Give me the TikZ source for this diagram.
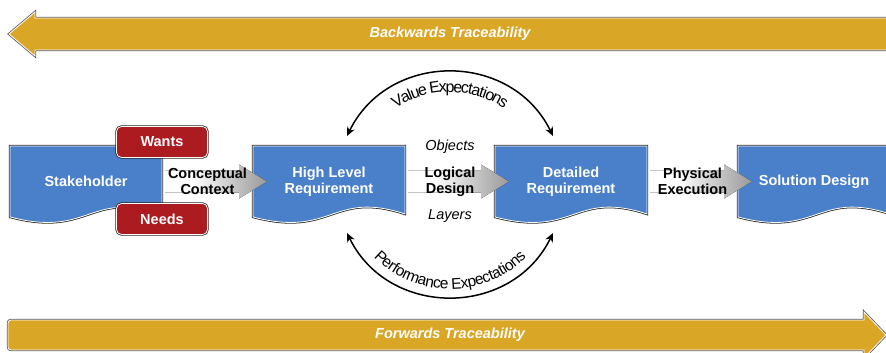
\documentclass[tikz,border=0pt]{standalone}
\usepackage{fontspec}
\setmainfont{Liberation Sans}
\usepackage{tikz}
\usetikzlibrary{positioning,arrows.meta,decorations.text}
\pgfdeclarelayer{bg}
\pgfsetlayers{bg,main}

\definecolor{traceGold}{RGB}{218,166,38}
\definecolor{docBlue}{RGB}{74,127,201}
\definecolor{tagRed}{RGB}{172,27,32}
\definecolor{rimGray}{RGB}{85,85,85}
\pgfdeclarehorizontalshading{flowfade}{100bp}{color(0bp)=(white); color(38bp)=(white); color(75bp)=(black!40); color(100bp)=(black!40)}

\tikzset{
  rimmed/.style={preaction={draw=#1,line width=2.4pt},draw=white,line width=0.8pt},
  rimmed/.default=black!85,
  docnode/.style={minimum width=152pt,minimum height=71pt,inner sep=0pt,outer sep=0pt,
    text=white,align=center,font=\fontsize{14.5}{16}\selectfont\bfseries},
  docshape/.style={rimmed,fill=docBlue},
  tagbox/.style={rimmed,fill=tagRed,rounded corners=5pt,minimum width=91pt,minimum height=31pt,
    inner sep=0pt,text=white,font=\fontsize{14.5}{16}\selectfont\bfseries},
  steplabel/.style={align=center,inner sep=1pt,font=\fontsize{14.5}{16}\selectfont\bfseries},
  layerlabel/.style={inner sep=1pt,font=\fontsize{14.5}{16}\selectfont\itshape},
  flowshade/.style={shading=flowfade},
  tracebar/.style={rimmed=rimGray,fill=traceGold},
  tracetext/.style={text=white,font=\fontsize{14.5}{16}\selectfont\bfseries\itshape},
  expect/.style={line width=1.5pt,{Stealth[length=9pt,width=8pt]}-{Stealth[length=9pt,width=8pt]}},
}

\begin{document}
\begin{tikzpicture}[x=1pt,y=-1pt]
\useasboundingbox (0,0) rectangle (886,353);
\clip (0,0) rectangle (886,353);

% traceability bars
\draw[tracebar] (895,18) -- (35,18) -- (35,12) -- (9,34) -- (35,56) -- (35,50) -- (895,50) -- cycle;
\node[tracetext] (back) at (450,34) {Backwards Traceability};
\draw[tracebar] (436,320) [rounded corners=3pt] -- (8,320) -- (8,350) -- (436,350) [sharp corners]
  -- (864,350) -- (864,358) -- (886,335) -- (864,312) -- (864,320) -- cycle;
\node[tracetext] (fwd) at (450,335) {Forwards Traceability};

% documents
\node[docnode] (stake) at (86,181.5) {Stakeholder};
\node[docnode,right=91pt of stake] (hlr) {High Level\\Requirement};
\node[docnode,right=90pt of hlr] (detail) {Detailed\\Requirement};
\node[docnode,right=91pt of detail] (soln) {Solution Design};

\begin{pgfonlayer}{bg}
\foreach \n in {stake,hlr,detail,soln}
  \draw[docshape] (\n.north west) -- (\n.north east) -- ([yshift=3pt]\n.south east)
    .. controls ([xshift=-73pt,yshift=27pt]\n.south east) and ([xshift=80pt,yshift=-21pt]\n.south west)
    .. (\n.south west) -- cycle;
\end{pgfonlayer}

% flow arrows
\foreach \a/\b in {stake/hlr,hlr/detail,detail/soln}
  \fill[flowshade] ([xshift=3pt,yshift=11pt]\a.east) -- ([xshift=-14pt,yshift=11pt]\b.west)
    -- ([xshift=-14pt,yshift=17pt]\b.west) -- ([xshift=14pt]\b.west)
    -- ([xshift=-14pt,yshift=-17pt]\b.west) -- ([xshift=-14pt,yshift=-11pt]\b.west)
    -- ([xshift=3pt,yshift=-11pt]\a.east) -- cycle;

\path (stake) -- node[steplabel] (ctx) {Conceptual\\Context} (hlr);
\path (hlr) -- node[steplabel] (lgc) {Logical\\Design} (detail);
\path (detail) -- node[steplabel] (phy) {Physical\\Execution} (soln);
\node[layerlabel] (objects) at ([yshift=35pt]lgc) {Objects};
\node[layerlabel] (layers) at ([yshift=-35pt]lgc) {Layers};

% wants and needs
\node[tagbox] (wants) at ([yshift=4pt]stake.north east) {Wants};
\node[tagbox] (needs) at ([yshift=-2pt]stake.south east) {Needs};

% expectations
\coordinate (vl) at ([xshift=18pt,yshift=10pt]hlr.north);
\coordinate (vr) at ([xshift=-18pt,yshift=10pt]detail.north);
\coordinate (pl) at ([xshift=18pt,yshift=-16pt]hlr.south);
\coordinate (pr) at ([xshift=-18pt,yshift=-16pt]detail.south);
\draw[expect,postaction={decorate,decoration={text along path,text align=center,raise=-20pt,
  text={|\fontsize{16}{18}\selectfont|Value Expectations}}}] (vl) to[bend left=64,looseness=1.18] (vr);
\draw[expect,postaction={decorate,decoration={text along path,text align=center,raise=8pt,
  text={|\fontsize{15.5}{18}\selectfont|Performance Expectations}}}] (pl) to[bend right=64,looseness=1.18] (pr);
\end{tikzpicture}
\end{document}
